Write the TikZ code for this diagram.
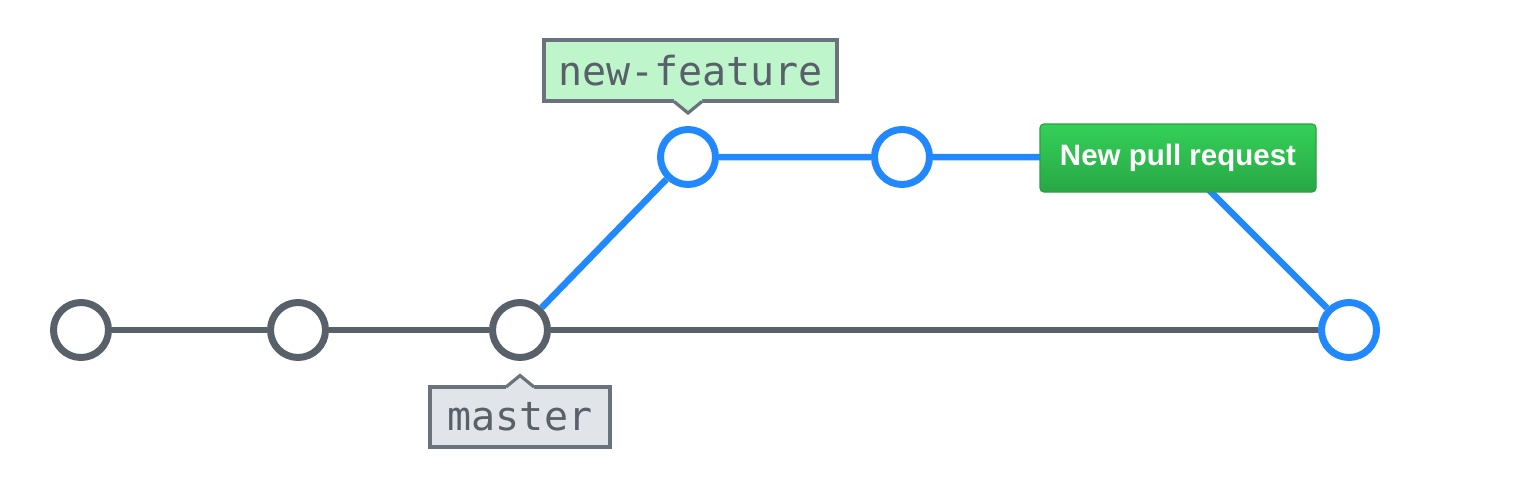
\documentclass[tikz,border=0pt]{standalone}
\usepackage{fontspec}
\usetikzlibrary{backgrounds}
\newfontfamily\labelmono{DejaVu Sans Mono}
\newfontfamily\btnsans{Liberation Sans}
\definecolor{gitgray}{HTML}{586069}
\definecolor{gitblue}{HTML}{2188FF}
\definecolor{boxborder}{HTML}{6A737D}
\definecolor{featfill}{HTML}{BEF5CB}
\definecolor{mastfill}{HTML}{E1E4E8}
\definecolor{btntop}{HTML}{34D058}
\definecolor{btnbot}{HTML}{28A745}
\definecolor{btnedge}{HTML}{2A9F45}
\begin{document}
\begin{tikzpicture}[x=1pt,y=-1pt,
  commit/.style={circle, draw=#1, line width=7pt, fill=white, minimum size=55pt, inner sep=0pt},
  graybranch/.style={draw=gitgray, line width=6.5pt},
  bluebranch/.style={draw=gitblue, line width=6.5pt},
  tagbox/.style={draw=boxborder, line width=3.2pt, fill=#1, inner sep=0pt, text=gitgray, font=\labelmono\fontsize{40}{40}\selectfont},
  tagtip/.style={draw=boxborder, line width=3.2pt},
  button/.style={draw=btnedge, line width=1.2pt, rounded corners=4pt, top color=btntop, bottom color=btnbot, text=white, font=\btnsans\bfseries\fontsize{29.5}{29.5}\selectfont, minimum width=276pt, minimum height=68pt, inner sep=0pt}
]
\useasboundingbox (0,0) rectangle (1540,482);
% commits
\node[commit=gitgray] (c1) at (81,330) {};
\node[commit=gitgray] (c2) at (298,330) {};
\node[commit=gitgray] (c3) at (520,330) {};
\node[commit=gitblue] (f1) at (688,157) {};
\node[commit=gitblue] (f2) at (902,157) {};
\node[commit=gitblue] (m4) at (1349,330) {};
\coordinate (bend) at (1176,157);
% connectors behind the commits
\begin{scope}[on background layer]
\path[graybranch] (c1) -- (c2) (c2) -- (c3) (c3) -- (m4);
\path[bluebranch] (c3) -- (f1) (f1) -- (f2);
\path[bluebranch] (f2) -- (bend) -- (m4);
\end{scope}
% button
\node[button] (pr) at (1178,158) {New pull request};
% new-feature tag
\node[tagbox=featfill, minimum width=293pt, minimum height=61pt] (nf) at (690.5,70.5) {new-feature};
\fill[featfill] (674,99) -- (674,101.5) -- (688,113) -- (702,101.5) -- (702,99) -- cycle;
\draw[tagtip] (674,101.5) -- (688,113) -- (702,101.5);
% master tag
\node[tagbox=mastfill, minimum width=180pt, minimum height=60pt] (ms) at (520,417) {master};
\fill[mastfill] (506,389.5) -- (506,387) -- (520,375.5) -- (534,387) -- (534,389.5) -- cycle;
\draw[tagtip] (506,387) -- (520,375.5) -- (534,387);
\end{tikzpicture}
\end{document}
